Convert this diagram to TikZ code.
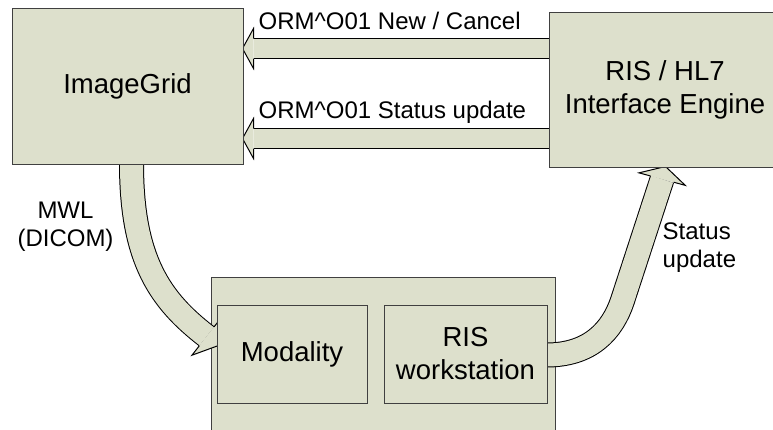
\documentclass[tikz,border=0pt]{standalone}
\usepackage{fontspec}
\setmainfont{Liberation Sans}
\usetikzlibrary{calc}
\definecolor{boxfill}{RGB}{221,224,204}
\definecolor{boxline}{RGB}{64,64,64}
\begin{document}
\begin{tikzpicture}[x=1pt,y=-1pt,
  blk/.style={draw=boxline, fill=boxfill, line width=1pt, inner sep=0pt, anchor=north west},
  bigtxt/.style={font=\fontsize{27.5}{33}\selectfont, align=center},
  lbl/.style={font=\fontsize{24}{28.5}\selectfont, inner sep=0pt},
  arrbody/.style={draw=black, line width=1pt, double=boxfill, double distance=#1},
  arrhead/.style={draw=black, fill=boxfill, line width=1pt, line join=miter}
]
\useasboundingbox (0,0) rectangle (773,429);
\clip (0,0) rectangle (773,429);
\begin{scope}[shift={(0.5,0.5)}]
% container (drawn first)
\node[blk, minimum width=344, minimum height=170] (cont) at (210,276) {};

% coordinates for the main boxes (boxes drawn after arrows)
\coordinate (igNW) at (11,7);
\coordinate (rhNW) at (548,11);

% ---- arrows ----
% ORM New / Cancel
\coordinate (o1s) at (552,48);
\coordinate (o1t) at (242,48);
\coordinate (o1b) at (253,48);
\draw[arrbody=19pt] (o1s) -- (o1b);
\filldraw[arrhead] ($(o1b)!10pt!90:(o1t)$) -- ($(o1b)!20pt!90:(o1t)$) -- (o1t)
  -- ($(o1b)!20pt!-90:(o1t)$) -- ($(o1b)!10pt!-90:(o1t)$);
% ORM Status update
\coordinate (o2s) at (552,138);
\coordinate (o2t) at (242,138);
\coordinate (o2b) at (253,138);
\draw[arrbody=19pt] (o2s) -- (o2b);
\filldraw[arrhead] ($(o2b)!10pt!90:(o2t)$) -- ($(o2b)!20pt!90:(o2t)$) -- (o2t)
  -- ($(o2b)!20pt!-90:(o2t)$) -- ($(o2b)!10pt!-90:(o2t)$);
% MWL
\coordinate (ms) at (131,159);
\coordinate (mb) at (206.2,335.8);
\coordinate (mt) at (218,345);
\draw[arrbody=23pt] (ms) -- (131,163) .. controls (131,260) and (160,300) .. (mb);
\filldraw[arrhead] ($(mb)!12pt!90:(mt)$) -- ($(mb)!24pt!90:(mt)$) -- (mt)
  -- ($(mb)!24pt!-90:(mt)$) -- ($(mb)!12pt!-90:(mt)$);
% Status update
\coordinate (ss) at (542,354.5);
\coordinate (sb) at (661.6,178.6);
\coordinate (st) at (665,166);
\draw[arrbody=23pt] (ss) -- (546,354.5) .. controls (590,354.5) and (612,330) .. (622,300) -- (sb);
\filldraw[arrhead] ($(sb)!12pt!90:(st)$) -- ($(sb)!24pt!90:(st)$) -- (st)
  -- ($(sb)!24pt!-90:(st)$) -- ($(sb)!12pt!-90:(st)$);

% ---- boxes ----
\node[blk, bigtxt, minimum width=231, minimum height=156] (ig) at (igNW) {ImageGrid};
\node[blk, bigtxt, minimum width=232, minimum height=155] (rh) at (rhNW) {RIS / HL7\\Interface Engine};
\node[blk, bigtxt, minimum width=150, minimum height=98] (mod) at (216,304) {Modality};
\node[blk, bigtxt, minimum width=163, minimum height=98] (ws) at (383,304) {RIS\\workstation};

% ---- labels ----
\node[lbl, anchor=base west] (l1) at (258,29) {ORM\textasciicircum O01 New / Cancel};
\node[lbl, anchor=base west] (l2) at (258,118) {ORM\textasciicircum O01 Status update};
\node[lbl, align=center] (l3) at (65,226) {MWL\\(DICOM)};
\node[lbl, align=left, anchor=west] (l4) at (662,247) {Status\\update};
\end{scope}
\end{tikzpicture}
\end{document}
